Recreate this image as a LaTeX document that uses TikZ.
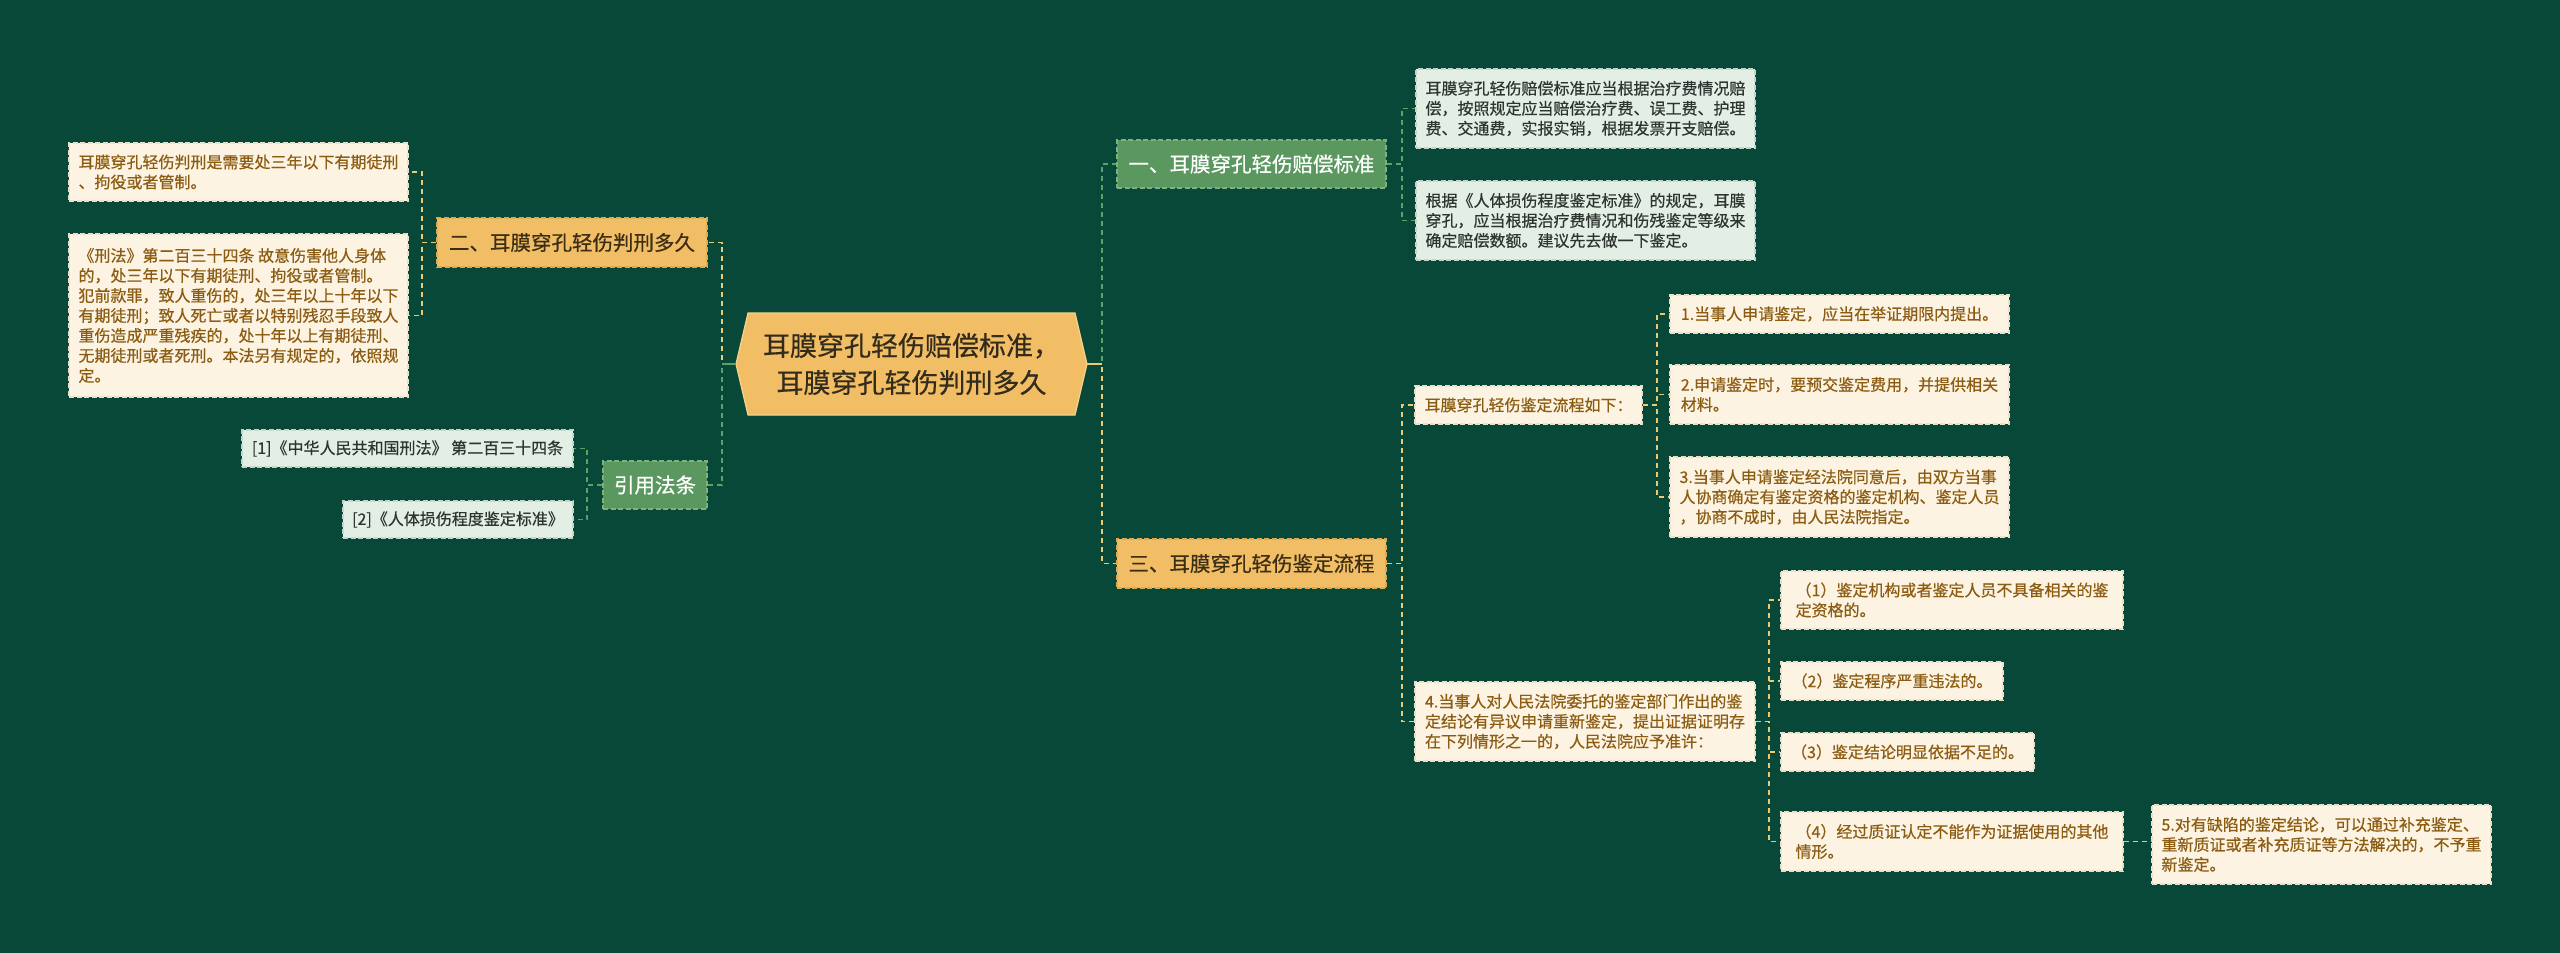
\documentclass[tikz,border=0pt]{standalone}
\usepackage{fontspec}
\setmainfont{Noto Sans CJK SC}[FakeBold=0.5]
\definecolor{bg}{HTML}{084838}
\definecolor{creamfill}{HTML}{FDF3E2}
\definecolor{creamline}{HTML}{EADFCB}
\definecolor{creamtext}{HTML}{8B5C12}
\definecolor{sagefill}{HTML}{E3EEE5}
\definecolor{sageline}{HTML}{C6D4C9}
\definecolor{sagetext}{HTML}{2E3430}
\definecolor{orangefill}{HTML}{F1BE65}
\definecolor{orangeline}{HTML}{DDAA52}
\definecolor{orangetext}{HTML}{3B2E14}
\definecolor{greenfill}{HTML}{5B985F}
\definecolor{greenline}{HTML}{7DB27F}
\definecolor{lineY}{HTML}{EBCB72}
\definecolor{lineG}{HTML}{5FA068}
\definecolor{roottext}{HTML}{332B1B}
\definecolor{hexline}{HTML}{F6D488}
\tikzset{
  box/.style={rectangle, inner xsep=8pt, inner ysep=0pt, font=\fontsize{16}{20}\selectfont, align=left, line width=1.5pt, dash pattern=on 5pt off 2.5pt},
  cream/.style={box, fill=creamfill, draw=creamline, text=creamtext},
  sage/.style={box, fill=sagefill, draw=sageline, text=sagetext},
  mainbox/.style={rectangle, inner sep=0pt, font=\fontsize{20.5}{26}\selectfont, align=center, line width=1.5pt, dash pattern=on 5pt off 2.5pt},
  orangebox/.style={mainbox, fill=orangefill, draw=orangeline, text=orangetext},
  greenbox/.style={mainbox, fill=greenfill, draw=greenline, text=white},
  conY/.style={draw=lineY, line width=1.8pt, dash pattern=on 5pt off 4pt},
  conG/.style={draw=lineG, line width=1.8pt, dash pattern=on 5pt off 4pt},
  stubY/.style={draw=lineY, line width=2pt},
  stubG/.style={draw=lineG, line width=2pt},
}
\begin{document}
\begin{tikzpicture}[x=1pt,y=-1pt]
\fill[bg] (0,0) rectangle (2560,953);
\useasboundingbox (0,0) rectangle (2560,953);

% root hexagon
\filldraw[fill=orangefill, draw=hexline, line width=1.2pt] (736,364) -- (748,313) -- (1075,313) -- (1087,364) -- (1075,415) -- (748,415) -- cycle;
\node[font=\fontsize{27}{37}\selectfont, text=roottext, align=center, minimum width=351pt, minimum height=102pt, inner sep=0pt] (root) at (911.5,364) {耳膜穿孔轻伤赔偿标准，\\耳膜穿孔轻伤判刑多久};

% left branch
\node[orangebox, minimum width=270pt, minimum height=49pt] (n2) at (572,242.5) {二、耳膜穿孔轻伤判刑多久};
\node[cream, minimum width=339pt, minimum height=58pt] (L1) at (238.5,172) {耳膜穿孔轻伤判刑是需要处三年以下有期徒刑\\、拘役或者管制。};
\node[cream, minimum width=339pt, minimum height=163pt] (L2) at (238.5,315.5) {《刑法》第二百三十四条 故意伤害他人身体\\的，处三年以下有期徒刑、拘役或者管制。\\犯前款罪，致人重伤的，处三年以上十年以下\\有期徒刑；致人死亡或者以特别残忍手段致人\\重伤造成严重残疾的，处十年以上有期徒刑、\\无期徒刑或者死刑。本法另有规定的，依照规\\定。};
\node[greenbox, minimum width=104pt, minimum height=48pt] (nY) at (655,485) {引用法条};
\node[sage, minimum width=331pt, minimum height=37pt] (R1) at (407.5,448.5) {[1]《中华人民共和国刑法》 第二百三十四条};
\node[sage, minimum width=230pt, minimum height=37pt] (R2) at (458,519.5) {[2]《人体损伤程度鉴定标准》};

% right branch
\node[greenbox, minimum width=269pt, minimum height=48pt] (n1) at (1251.5,164) {一、耳膜穿孔轻伤赔偿标准};
\node[sage, minimum width=339pt, minimum height=79pt] (A1) at (1585.5,108.5) {耳膜穿孔轻伤赔偿标准应当根据治疗费情况赔\\偿，按照规定应当赔偿治疗费、误工费、护理\\费、交通费，实报实销，根据发票开支赔偿。};
\node[sage, minimum width=339pt, minimum height=79pt] (A2) at (1585.5,220.5) {根据《人体损伤程度鉴定标准》的规定，耳膜\\穿孔，应当根据治疗费情况和伤残鉴定等级来\\确定赔偿数额。建议先去做一下鉴定。};

\node[orangebox, minimum width=269pt, minimum height=49pt] (n3) at (1251.5,563.5) {三、耳膜穿孔轻伤鉴定流程};
\node[cream, minimum width=227pt, minimum height=38pt] (B0) at (1528.5,405) {耳膜穿孔轻伤鉴定流程如下：};
\node[cream, minimum width=339pt, minimum height=38pt] (B1) at (1839.5,314) {1.当事人申请鉴定，应当在举证期限内提出。};
\node[cream, minimum width=339pt, minimum height=59pt] (B2) at (1839.5,394.5) {2.申请鉴定时，要预交鉴定费用，并提供相关\\材料。};
\node[cream, minimum width=339pt, minimum height=80pt] (B3) at (1839.5,497) {3.当事人申请鉴定经法院同意后，由双方当事\\人协商确定有鉴定资格的鉴定机构、鉴定人员\\，协商不成时，由人民法院指定。};
\node[cream, minimum width=340pt, minimum height=79pt] (B4) at (1585,721.5) {4.当事人对人民法院委托的鉴定部门作出的鉴\\定结论有异议申请重新鉴定，提出证据证明存\\在下列情形之一的，人民法院应予准许：};
\node[cream, minimum width=342pt, minimum height=58pt] (C1) at (1952,600) {（1）鉴定机构或者鉴定人员不具备相关的鉴\\定资格的。};
\node[cream, minimum width=222pt, minimum height=38pt] (C2) at (1892,681) {（2）鉴定程序严重违法的。};
\node[cream, minimum width=253pt, minimum height=38pt] (C3) at (1907.5,752) {（3）鉴定结论明显依据不足的。};
\node[cream, minimum width=342pt, minimum height=59pt] (C4) at (1952,841.5) {（4）经过质证认定不能作为证据使用的其他\\情形。};
\node[cream, minimum width=339pt, minimum height=79pt] (D) at (2321.5,844.5) {5.对有缺陷的鉴定结论，可以通过补充鉴定、\\重新质证或者补充质证等方法解决的，不予重\\新鉴定。};

% connectors
\coordinate (rootL) at (736,364);
\coordinate (rootR) at (1087,364);
\draw[conY] (rootL) -- ++(-14,0) |- (n2.east);
\draw[conG] (rootL) -- ++(-14,0) |- (nY.east);
\draw[stubG] (rootL) -- ++(-14,0);
\draw[conY] (n2.west) -- ++(-14,0) |- (L1.east);
\draw[conY] (n2.west) -- ++(-14,0) |- (L2.east);
\draw[conG] (nY.west) -- ++(-15,0) |- (R1.east);
\draw[conG] (nY.west) -- ++(-15,0) |- (R2.east);

\draw[conG] (rootR) -- ++(15,0) |- (n1.west);
\draw[conY] (rootR) -- ++(15,0) |- (n3.west);
\draw[stubY] (rootR) -- ++(15,0);
\draw[conG] (n1.east) -- ++(15,0) |- (A1.west);
\draw[conG] (n1.east) -- ++(15,0) |- (A2.west);
\draw[conY] (n3.east) -- ++(15,0) |- (B0.west);
\draw[conY] (n3.east) -- ++(15,0) |- (B4.west);
\draw[conY] (B0.east) -- ++(14,0) |- (B1.west);
\draw[conY] (B0.east) -- ++(14,0) |- (B2.west);
\draw[conY] (B0.east) -- ++(14,0) |- (B3.west);
\draw[conY] (B4.east) -- ++(13,0) |- (C1.west);
\draw[conY] (B4.east) -- ++(13,0) |- (C2.west);
\draw[conY] (B4.east) -- ++(13,0) |- (C3.west);
\draw[conY] (B4.east) -- ++(13,0) |- (C4.west);
\draw[conY] (C4.east) -- (C4.east -| D.west);
\end{tikzpicture}
\end{document}
